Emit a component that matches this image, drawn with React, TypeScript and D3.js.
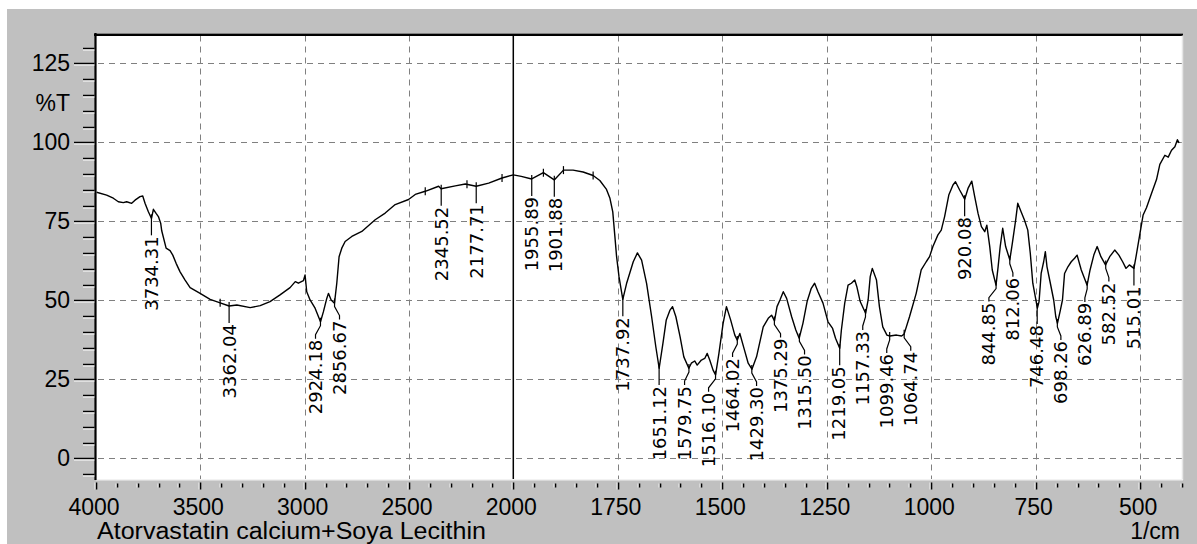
import React from 'react';
import * as d3 from 'd3';

// ---- data ----
const WAVENUMBERS = [
  3997, 3949, 3917, 3893, 3869, 3853, 3829, 3813, 3789, 3776, 3765, 3749, 3734, 3725, 3712, 3701, 3690, 3685,
  3664, 3645, 3632, 3616, 3597, 3573, 3549, 3501, 3453, 3405, 3362, 3325, 3261, 3213, 3166, 3118, 3070, 3045,
  3030, 3006, 2998, 2990, 2974, 2950, 2924, 2910, 2894, 2886, 2873, 2857, 2846, 2835, 2822, 2806, 2774, 2726,
  2662, 2614, 2566, 2502, 2470, 2422, 2358, 2346, 2278, 2230, 2178, 2118, 2054, 2000, 1981, 1956, 1928, 1902,
  1880, 1857, 1833, 1809, 1793, 1777, 1769, 1762, 1757, 1753, 1747, 1738, 1729, 1713, 1703, 1693, 1681, 1669,
  1659, 1651, 1642, 1634, 1625, 1619, 1611, 1601, 1592, 1580, 1574, 1566, 1560, 1550, 1542, 1536, 1530, 1522,
  1516, 1508, 1498, 1490, 1480, 1470, 1464, 1458, 1448, 1438, 1429, 1418, 1402, 1390, 1382, 1375, 1369, 1362,
  1354, 1346, 1334, 1324, 1316, 1307, 1297, 1287, 1279, 1271, 1259, 1247, 1236, 1229, 1219, 1215, 1207, 1199,
  1191, 1183, 1178, 1170, 1157, 1151, 1146, 1141, 1131, 1124, 1116, 1106, 1099, 1083, 1071, 1065, 1052, 1036,
  1024, 1012, 1004, 996, 984, 976, 968, 958, 948, 942, 932, 920, 912, 903, 896, 888, 880, 872, 867, 860, 854,
  845, 840, 835, 829, 822, 812, 806, 798, 793, 785, 777, 769, 763, 757, 746, 742, 737, 731, 727, 723, 715, 707,
  702, 698, 691, 686, 681, 673, 665, 657, 651, 641, 627, 620, 611, 603, 594, 583, 573, 561, 551, 542, 534, 526,
  515, 510, 502, 493, 485, 473, 461, 453, 441, 433, 425, 417, 411, 407,
];
const TRANSMITTANCE = [
  84.2, 83.3, 82.3, 81.2, 80.9, 81.2, 80.7, 81.7, 82.8, 83.0, 80.7, 78.0, 75.9, 78.8, 77.5, 76.5, 74.4, 72.0,
  66.5, 65.7, 64.3, 61.7, 59.0, 56.4, 54.0, 52.2, 50.3, 49.2, 48.2, 48.5, 47.7, 48.3, 49.6, 51.7, 54.0, 55.9,
  55.4, 56.2, 58.0, 52.7, 50.1, 47.5, 43.2, 46.4, 50.6, 52.2, 50.1, 49.1, 55.4, 63.8, 66.5, 68.6, 70.2, 71.8,
  75.5, 77.6, 80.3, 81.9, 83.5, 84.5, 86.1, 85.3, 86.2, 86.8, 86.1, 87.1, 88.7, 89.7, 89.2, 88.4, 90.4, 88.1,
  91.2, 91.2, 90.6, 89.5, 87.9, 85.1, 82.4, 78.0, 70.3, 64.0, 57.4, 50.3, 55.3, 62.2, 65.0, 62.7, 55.3, 44.8,
  35.3, 28.5, 36.4, 43.8, 46.9, 48.0, 44.8, 38.5, 32.1, 28.5, 30.1, 30.8, 29.5, 31.1, 31.6, 33.2, 31.1, 27.9,
  26.4, 33.2, 42.7, 48.0, 43.8, 39.0, 37.4, 39.5, 34.8, 30.1, 28.2, 32.1, 41.6, 44.3, 45.3, 43.5, 48.0, 50.1,
  52.7, 50.6, 44.8, 40.6, 38.0, 42.7, 49.6, 53.8, 55.4, 52.7, 49.1, 43.2, 41.1, 38.0, 34.8, 40.6, 49.1, 54.8,
  55.4, 56.4, 54.3, 49.6, 45.9, 50.1, 57.5, 60.1, 56.4, 48.0, 41.6, 39.0, 38.7, 39.0, 38.7, 39.3, 44.8, 52.2,
  59.6, 62.2, 63.8, 67.0, 70.7, 72.2, 76.5, 83.3, 86.5, 87.5, 84.9, 82.0, 85.4, 87.7, 82.8, 77.5, 73.3, 71.7, 73.8, 67.0, 59.6,
  54.8, 60.6, 67.0, 72.8, 67.0, 62.8, 68.0, 75.4, 80.7, 78.0, 75.4, 72.2, 64.9, 55.4, 47.5, 49.6, 58.5, 62.2, 65.4, 60.6, 55.4, 50.1,
  44.8, 42.7, 46.9, 50.1, 58.5, 60.6, 62.2, 63.3, 64.3, 59.6, 54.8, 59.6, 64.3, 67.0, 63.8, 61.2, 63.8, 65.9, 64.3, 62.2, 60.1, 61.2,
  60.1, 63.8, 70.1, 77.0, 79.3, 83.8, 88.2, 93.0, 95.9, 95.3, 97.5, 98.6, 100.8, 99.8,
];

const PEAK_WAVENUMBERS = [
  3734.31, 3362.04, 2924.18, 2856.67, 2345.52, 2177.71, 1955.89, 1901.88, 1737.92, 1651.12, 1579.75, 1516.1,
  1464.02, 1429.3, 1375.29, 1315.5, 1219.05, 1157.33, 1099.46, 1064.74, 920.08, 844.85, 812.06, 746.48, 698.26,
  626.89, 582.52, 515.01,
];
const PEAK_LABELS = [
  '3734.31', '3362.04', '2924.18', '2856.67', '2345.52', '2177.71', '1955.89', '1901.88', '1737.92', '1651.12',
  '1579.75', '1516.10', '1464.02', '1429.30', '1375.29', '1315.50', '1219.05', '1157.33', '1099.46', '1064.74',
  '920.08', '844.85', '812.06', '746.48', '698.26', '626.89', '582.52', '515.01',
];
const UNLABELED_MARKS = [3405, 2422, 2222, 2054, 1928, 1880, 1809];

const X_BREAKS = [4000, 2000, 400];
const X_TICKS = [4000, 3500, 3000, 2500, 2000, 1750, 1500, 1250, 1000, 750, 500];
const X_GRID = [3500, 3000, 2500, 1750, 1500, 1250, 1000, 750, 500];
const Y_TICKS = [0, 25, 50, 75, 100, 125];
const Y_DOMAIN = [-6.55, 133.8];
const TITLE = 'Atorvastatin calcium+Soya Lecithin';
const X_UNIT = '1/cm';
const Y_UNIT = '%T';

const W = 1197;
const H = 544;
const PL = 96;
const PR = 1182;
const PT = 35.5;
const PB = 479;
const AXIS_FONT = "'Liberation Sans', Arial, sans-serif";
const PEAK_FONT = "'DejaVu Sans', 'Liberation Sans', sans-serif";
const LABEL_SPACING = 24;
const LABEL_GAP = 17;

function valueAt(wn: number): number {
  for (let i = 0; i < WAVENUMBERS.length - 1; i++) {
    const a = WAVENUMBERS[i];
    const b = WAVENUMBERS[i + 1];
    if (wn <= a && wn >= b) {
      const t = (a - wn) / (a - b);
      return TRANSMITTANCE[i] + t * (TRANSMITTANCE[i + 1] - TRANSMITTANCE[i]);
    }
  }
  return TRANSMITTANCE[TRANSMITTANCE.length - 1];
}

// spread label columns so neighbouring labels don't overlap
function spread(xs: number[], minGap: number): number[] {
  const out = xs.slice();
  for (let iter = 0; iter < 200; iter++) {
    let moved = false;
    for (let i = 0; i < out.length - 1; i++) {
      const d = out[i + 1] - out[i];
      if (d < minGap - 0.01) {
        const shift = (minGap - d) / 2;
        out[i] -= shift;
        out[i + 1] += shift;
        moved = true;
      }
    }
    if (!moved) break;
  }
  return out;
}

export default function App() {
  const x = d3.scaleLinear().domain(X_BREAKS).range([PL, 513.3, PR]);
  const y = d3.scaleLinear().domain(Y_DOMAIN).range([PB, PT]);

  const points: [number, number][] = WAVENUMBERS.map((w, i) => [w, TRANSMITTANCE[i]]);
  const line = d3
    .line<[number, number]>()
    .x((d) => x(d[0]))
    .y((d) => y(d[1]));

  const minorX = d3.range(4000, 2000, -100).concat(d3.range(2000, 399, -50));
  const minorY = d3.range(-5, 131, 5);

  const peakX = PEAK_WAVENUMBERS.map((w) => x(w));
  const peakY = PEAK_WAVENUMBERS.map((w) => y(valueAt(w)));
  const labelX = spread(peakX, LABEL_SPACING);

  return (
    <svg
      width={W}
      height={H}
      style={{ position: 'absolute', left: 0, top: 0, display: 'block' }}
      xmlns="http://www.w3.org/2000/svg"
    >
      <rect x={0} y={0} width={W} height={H} fill="#ffffff" />
      <rect x={7} y={9} width={W - 7} height={H - 9} fill="#c0c0c0" />
      <rect x={PL} y={PT} width={PR - PL} height={PB - PT} fill="#ffffff" />

      {/* grid */}
      <g stroke="#808080" strokeWidth={1} strokeDasharray="6,5">
        {Y_TICKS.map((t) => (
          <line key={'gy' + t} x1={PL + 2} x2={PR} y1={Math.round(y(t)) + 0.5} y2={Math.round(y(t)) + 0.5} />
        ))}
        {X_GRID.map((t) => (
          <line key={'gx' + t} x1={Math.round(x(t)) + 0.5} x2={Math.round(x(t)) + 0.5} y1={PT} y2={PB} />
        ))}
      </g>
      <line x1={x(2000)} x2={x(2000)} y1={PT} y2={PB} stroke="#000" strokeWidth={1.5} />

      {/* spectrum */}
      <path d={line(points) || ''} fill="none" stroke="#000" strokeWidth={1.4} strokeLinejoin="round" />

      {/* unlabeled peak marks */}
      <g stroke="#000" strokeWidth={1.2}>
        {UNLABELED_MARKS.map((w) => {
          const px = x(w);
          const py = y(valueAt(w));
          return <line key={'m' + w} x1={px} x2={px} y1={py - 4} y2={py + 4} />;
        })}
      </g>

      {/* peak labels */}
      <g>
        {PEAK_WAVENUMBERS.map((w, i) => {
          const px = peakX[i];
          const py = peakY[i];
          const lx = labelX[i];
          const top = py + LABEL_GAP;
          const pts: [number, number][] =
            Math.abs(lx - px) < 1
              ? [
                  [px, py - 4],
                  [px, top],
                ]
              : [
                  [px, py - 4],
                  [px, py + 4],
                  [lx, top - 4],
                  [lx, top],
                ];
          return (
            <g key={'p' + i}>
              <path d={d3.line()(pts) || ''} fill="none" stroke="#000" strokeWidth={1.2} />
              <text
                transform={`translate(${lx + 6.5},${top + 1}) rotate(-90)`}
                textAnchor="end"
                fontFamily={PEAK_FONT}
                fontSize={18}
                fill="#000"
              >
                {PEAK_LABELS[i]}
              </text>
            </g>
          );
        })}
      </g>

      {/* frame */}
      <line x1={PL - 2} x2={PR + 1} y1={33.5} y2={33.5} stroke="#808080" strokeWidth={1} />
      <line x1={PL - 2} x2={PR + 1} y1={35} y2={35} stroke="#000" strokeWidth={2} />
      <line x1={PR + 0.5} x2={PR + 0.5} y1={PT} y2={PB + 1} stroke="#e6e6e6" strokeWidth={1.5} />
      <line x1={PL} x2={PR + 1} y1={PB + 0.75} y2={PB + 0.75} stroke="#f2f2f2" strokeWidth={1.5} />
      <line x1={95.5} x2={95.5} y1={33} y2={PB + 1} stroke="#000" strokeWidth={2.2} />

      {/* y ticks */}
      {minorY.map((t) => {
        const major = t % 25 === 0;
        const yy = Math.round(y(t)) + 0.5;
        return (
          <g key={'yt' + t}>
            <line x1={major ? 74 : 83} x2={94.5} y1={yy} y2={yy} stroke="#000" strokeWidth={1.5} />
            <line x1={major ? 74 : 83} x2={94.5} y1={yy + 1.5} y2={yy + 1.5} stroke="#ffffff" strokeWidth={1} />
          </g>
        );
      })}
      {Y_TICKS.map((t) => (
        <text
          key={'yl' + t}
          x={70}
          y={y(t)}
          dy="0.35em"
          textAnchor="end"
          fontFamily={AXIS_FONT}
          fontSize={23}
          fill="#000"
        >
          {t}
        </text>
      ))}
      <text
        x={70}
        y={(y(125) + y(100)) / 2}
        dy="0.35em"
        textAnchor="end"
        fontFamily={AXIS_FONT}
        fontSize={23}
        fill="#000"
      >
        {Y_UNIT}
      </text>

      {/* x ticks */}
      {minorX.map((t) => {
        const major = X_TICKS.includes(t);
        const xx = Math.round(x(t)) + 0.5;
        return (
          <g key={'xt' + t}>
            <line x1={xx} x2={xx} y1={major ? 482.5 : 483.5} y2={major ? 489.5 : 487.5} stroke="#000" strokeWidth={1.6} />
            <line x1={xx - 1.5} x2={xx - 1.5} y1={major ? 482.5 : 483.5} y2={major ? 489.5 : 487.5} stroke="#ffffff" strokeWidth={0.8} />
          </g>
        );
      })}
      {X_TICKS.map((t) => (
        <text key={'xl' + t} x={x(t) - 2} y={515} textAnchor="middle" fontFamily={AXIS_FONT} fontSize={23} fill="#000">
          {t}
        </text>
      ))}

      <text x={97} y={539} fontFamily={AXIS_FONT} fontSize={23} textLength={389} lengthAdjust="spacingAndGlyphs" fill="#000">
        {TITLE}
      </text>
      <text x={1180} y={539} textAnchor="end" fontFamily={AXIS_FONT} fontSize={23} fill="#000">
        {X_UNIT}
      </text>
    </svg>
  );
}
